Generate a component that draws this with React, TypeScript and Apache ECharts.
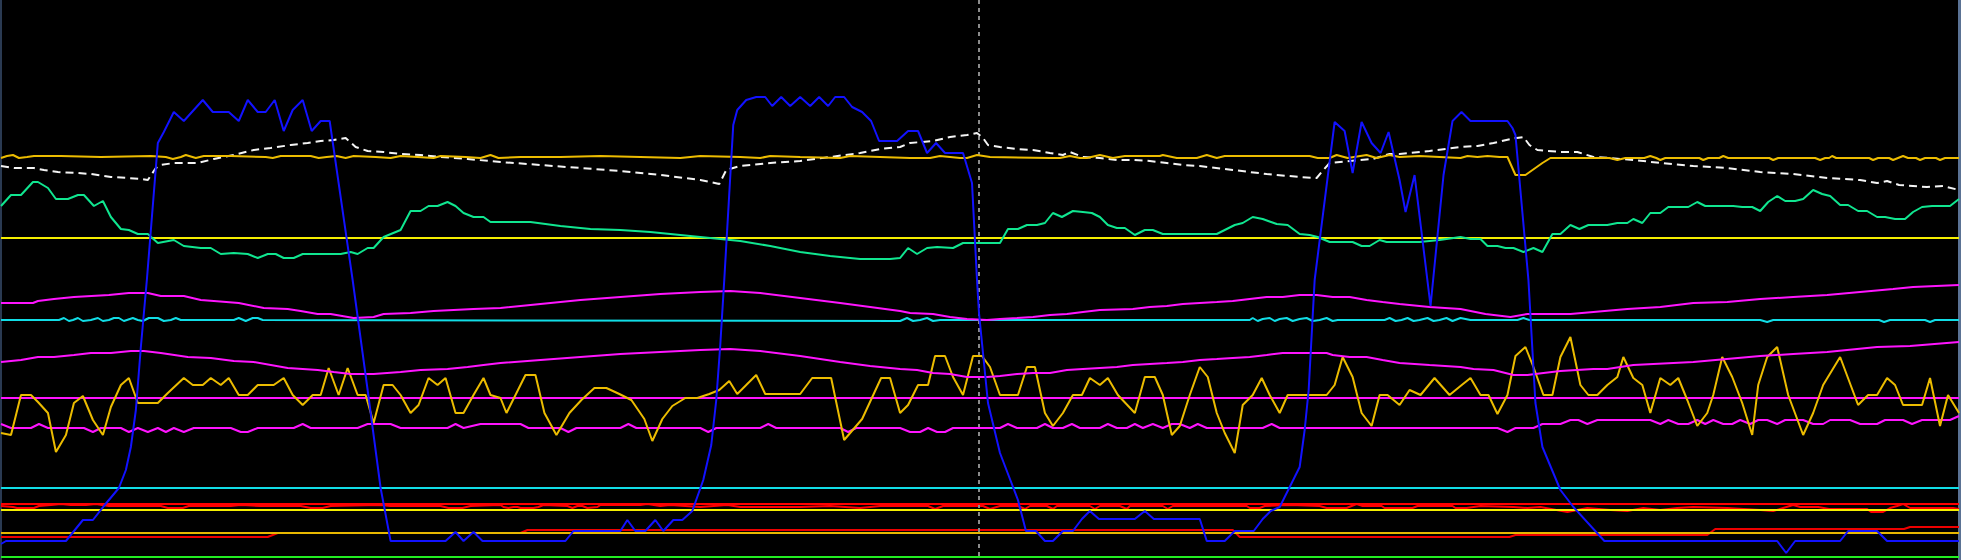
import React, { useEffect, useRef } from 'react';
import * as echarts from 'echarts';

type P = [number, number][];

// x: time position (0..1960), y: trace level (0 at top, 560 at bottom)
const blueTrace: P = [
  [0, 544], [5, 541], [65, 541], [82, 520], [92, 520], [103, 506], [118, 488], [125, 470], [130, 447], [135, 410], [140, 347], [146, 280],
  [157, 143], [163, 132], [173, 112], [183, 121], [202, 100], [212, 112], [228, 112], [238, 121], [247, 100], [257, 112], [265, 112],
  [274, 100], [283, 131], [292, 110], [302, 100], [311, 131], [320, 121], [329, 121], [352, 280], [367, 390], [380, 488], [390, 541],
  [445, 541], [455, 532], [463, 541], [473, 532], [482, 541], [565, 541], [573, 531], [620, 531], [627, 520], [635, 531], [645, 531],
  [655, 520], [663, 531], [673, 520], [682, 520], [692, 511], [703, 480], [711, 445], [716, 400], [720, 345], [724, 280], [733, 125],
  [737, 110], [746, 100], [756, 97], [765, 97], [772, 106], [781, 97], [790, 106], [800, 97], [810, 106], [819, 97], [828, 106],
  [835, 97], [844, 97], [852, 107], [862, 112], [871, 121], [879, 141], [897, 141], [908, 131], [918, 131], [927, 153], [936, 143],
  [945, 153], [963, 153], [972, 183], [977, 280], [979, 313], [988, 403], [1000, 453], [1018, 500], [1026, 531], [1036, 531],
  [1045, 541], [1053, 541], [1063, 531], [1073, 531], [1082, 519], [1090, 511], [1099, 519], [1135, 519], [1145, 511], [1154, 519],
  [1200, 519], [1207, 541], [1225, 541], [1235, 531], [1254, 531], [1263, 519], [1271, 511], [1280, 507], [1300, 467], [1305, 430],
  [1309, 390], [1315, 280], [1335, 122], [1345, 131], [1353, 173], [1362, 122], [1372, 143], [1381, 153], [1389, 132], [1400, 180],
  [1406, 212], [1415, 175], [1431, 306], [1444, 175], [1453, 121], [1462, 112], [1471, 121], [1508, 121], [1513, 128], [1516, 135],
  [1529, 280], [1536, 403], [1543, 447], [1561, 490], [1574, 507], [1605, 541], [1778, 541], [1787, 553], [1796, 541], [1841, 541],
  [1849, 531], [1878, 531], [1888, 541], [1960, 541],
];

const goldTop: P = [
  [0, 158], [6, 156], [12, 155], [18, 158], [26, 157], [33, 156], [60, 156], [100, 157], [150, 156], [165, 157], [172, 159], [180, 157],
  [185, 155], [195, 158], [203, 156], [230, 156], [265, 157], [272, 158], [280, 156], [310, 156], [318, 158], [326, 157], [336, 156],
  [345, 158], [353, 156], [375, 157], [390, 158], [400, 156], [417, 157], [433, 158], [440, 156], [465, 157], [480, 158], [490, 155],
  [498, 158], [520, 157], [560, 157], [600, 156], [640, 157], [680, 158], [700, 156], [740, 157], [760, 158], [770, 156], [800, 157],
  [840, 158], [850, 156], [880, 157], [910, 158], [930, 158], [940, 156], [960, 158], [967, 158], [977, 155], [990, 157], [1050, 158],
  [1060, 158], [1070, 156], [1080, 158], [1087, 158], [1100, 155], [1113, 158], [1125, 156], [1160, 156], [1163, 155], [1177, 158],
  [1197, 158], [1207, 155], [1217, 158], [1225, 156], [1310, 156], [1318, 158], [1330, 158], [1337, 155], [1348, 158], [1367, 155],
  [1377, 158], [1390, 155], [1400, 157], [1420, 156], [1440, 157], [1461, 158], [1468, 156], [1478, 157], [1488, 156], [1500, 157],
  [1508, 157], [1516, 175], [1526, 175], [1543, 163], [1551, 158], [1610, 158], [1618, 160], [1626, 158], [1645, 158], [1651, 156],
  [1657, 158], [1661, 160], [1666, 158], [1700, 158], [1704, 160], [1709, 158], [1720, 158], [1724, 156], [1729, 158], [1770, 158],
  [1774, 160], [1779, 158], [1816, 158], [1821, 160], [1826, 158], [1830, 158], [1833, 156], [1837, 158], [1870, 158], [1874, 160],
  [1879, 158], [1890, 158], [1894, 160], [1899, 158], [1904, 156], [1909, 158], [1917, 158], [1921, 160], [1926, 158], [1937, 158],
  [1941, 160], [1946, 158], [1960, 158],
];

const whiteDashed: P = [
  [0, 166], [13, 168], [33, 168], [43, 170], [57, 172], [77, 173], [90, 174], [110, 177], [127, 178], [140, 179], [147, 180], [155, 168],
  [160, 165], [173, 163], [197, 163], [213, 159], [233, 155], [253, 150], [270, 148], [290, 145], [307, 143], [320, 141], [333, 140],
  [345, 138], [355, 147], [367, 151], [383, 152], [400, 154], [420, 155], [440, 157], [467, 159], [500, 162], [540, 165], [580, 168],
  [620, 171], [660, 175], [700, 180], [719, 184], [726, 170], [740, 166], [770, 163], [800, 161], [830, 157], [860, 153], [880, 149],
  [900, 147], [910, 143], [933, 141], [950, 137], [967, 135], [977, 133], [983, 138], [988, 145], [1000, 147], [1017, 149], [1033, 150],
  [1050, 153], [1063, 155], [1070, 152], [1083, 157], [1100, 158], [1117, 160], [1133, 160], [1150, 161], [1167, 163], [1183, 165],
  [1200, 166], [1233, 170], [1267, 174], [1300, 177], [1317, 178], [1322, 172], [1330, 163], [1350, 161], [1373, 159], [1390, 154],
  [1400, 154], [1430, 151], [1461, 147], [1478, 146], [1494, 143], [1511, 139], [1524, 137], [1530, 145], [1538, 150], [1561, 152],
  [1578, 152], [1594, 157], [1611, 158], [1644, 161], [1661, 163], [1694, 166], [1728, 168], [1761, 172], [1794, 174], [1828, 178],
  [1861, 180], [1878, 183], [1888, 181], [1900, 185], [1928, 187], [1944, 186], [1960, 190],
];

const greenWave: P = [
  [0, 206], [10, 195], [20, 195], [32, 182], [37, 182], [47, 188], [55, 199], [67, 199], [77, 195], [83, 195], [93, 206], [102, 201],
  [110, 217], [120, 229], [128, 230], [137, 234], [147, 234], [157, 243], [173, 240], [183, 246], [200, 248], [210, 248], [220, 254],
  [233, 253], [247, 254], [257, 258], [267, 254], [275, 254], [283, 258], [293, 258], [302, 254], [340, 254], [350, 252], [357, 254],
  [367, 248], [373, 248], [383, 237], [400, 230], [410, 211], [420, 211], [428, 206], [437, 206], [447, 202], [455, 206], [463, 213],
  [473, 217], [483, 217], [490, 222], [500, 222], [530, 222], [560, 226], [590, 229], [620, 230], [650, 232], [680, 235], [710, 238],
  [740, 241], [770, 246], [800, 252], [830, 256], [860, 259], [890, 259], [900, 258], [908, 248], [917, 254], [927, 248], [937, 247],
  [953, 248], [963, 243], [1000, 243], [1008, 229], [1018, 229], [1027, 225], [1037, 225], [1045, 223], [1053, 213], [1062, 217],
  [1073, 211], [1083, 212], [1092, 213], [1100, 217], [1108, 225], [1117, 228], [1125, 228], [1135, 235], [1145, 230], [1153, 230],
  [1163, 234], [1217, 234], [1225, 230], [1235, 225], [1243, 223], [1253, 217], [1263, 219], [1277, 224], [1288, 225], [1300, 234],
  [1310, 235], [1318, 237], [1330, 242], [1353, 242], [1362, 246], [1370, 246], [1380, 240], [1387, 242], [1420, 242], [1440, 240],
  [1461, 237], [1471, 239], [1481, 239], [1488, 246], [1498, 246], [1506, 248], [1514, 248], [1524, 252], [1534, 248], [1543, 252],
  [1553, 234], [1561, 234], [1571, 225], [1580, 229], [1589, 225], [1608, 225], [1618, 223], [1628, 223], [1634, 219], [1643, 223],
  [1651, 213], [1661, 213], [1669, 207], [1689, 207], [1698, 202], [1706, 206], [1734, 206], [1743, 207], [1753, 207], [1761, 211],
  [1769, 202], [1778, 196], [1786, 201], [1796, 201], [1804, 199], [1814, 190], [1823, 194], [1831, 196], [1841, 205], [1849, 205],
  [1859, 211], [1868, 211], [1878, 217], [1886, 217], [1896, 219], [1906, 219], [1914, 212], [1923, 207], [1933, 206], [1951, 206],
  [1960, 199],
];

const magentaUpper: P = [
  [0, 303], [32, 303], [37, 301], [53, 299], [73, 297], [108, 295], [128, 293], [147, 293], [160, 296], [183, 296], [200, 300], [213, 301],
  [238, 303], [263, 308], [287, 309], [300, 311], [317, 314], [330, 314], [353, 318], [373, 317], [383, 314], [410, 313], [433, 311],
  [453, 310], [473, 309], [500, 308], [540, 304], [580, 300], [620, 297], [660, 294], [700, 292], [730, 291], [760, 293], [800, 298],
  [840, 303], [870, 307], [900, 311], [910, 313], [933, 314], [950, 317], [967, 319], [987, 320], [1000, 319], [1017, 318], [1033, 317],
  [1050, 315], [1067, 314], [1083, 312], [1100, 310], [1133, 309], [1150, 307], [1167, 306], [1183, 304], [1200, 303], [1217, 302],
  [1233, 301], [1250, 299], [1267, 297], [1283, 297], [1300, 295], [1317, 295], [1333, 297], [1350, 297], [1367, 300], [1383, 302],
  [1400, 304], [1430, 307], [1461, 309], [1486, 314], [1511, 317], [1528, 314], [1571, 314], [1594, 312], [1628, 309], [1661, 307],
  [1694, 303], [1728, 302], [1761, 299], [1794, 297], [1828, 295], [1861, 292], [1894, 289], [1914, 287], [1960, 285],
];

const cyanUpper: P = [
  [0, 320], [58, 320], [63, 318], [68, 321], [72, 320], [77, 318], [82, 321], [90, 320], [97, 318], [102, 321], [108, 320], [113, 318],
  [118, 318], [123, 321], [132, 318], [137, 320], [142, 321], [148, 318], [157, 318], [163, 321], [170, 320], [175, 318], [180, 320],
  [233, 320], [238, 318], [245, 321], [252, 318], [257, 318], [262, 320], [900, 321], [907, 318], [913, 321], [920, 320], [927, 318],
  [933, 321], [940, 320], [1250, 320], [1253, 318], [1258, 321], [1263, 319], [1270, 318], [1275, 321], [1280, 319], [1287, 318],
  [1293, 321], [1300, 319], [1307, 318], [1313, 321], [1320, 320], [1327, 318], [1333, 321], [1338, 320], [1385, 320], [1390, 318],
  [1396, 321], [1402, 320], [1408, 318], [1414, 321], [1420, 320], [1428, 318], [1434, 321], [1440, 320], [1447, 318], [1453, 321],
  [1461, 318], [1471, 320], [1518, 320], [1524, 318], [1530, 320], [1761, 320], [1768, 322], [1774, 320], [1880, 320], [1885, 322],
  [1891, 320], [1926, 320], [1931, 322], [1936, 320], [1960, 320],
];

const magentaMiddle: P = [
  [0, 362], [20, 360], [37, 357], [53, 357], [73, 355], [90, 353], [110, 353], [130, 351], [143, 351], [160, 353], [187, 357], [210, 358],
  [233, 361], [253, 362], [287, 368], [317, 370], [333, 372], [350, 374], [373, 374], [400, 372], [420, 370], [447, 369], [467, 367],
  [483, 365], [500, 363], [540, 360], [580, 357], [620, 354], [660, 352], [700, 350], [730, 349], [760, 351], [800, 356], [840, 362],
  [870, 366], [900, 369], [917, 370], [933, 373], [950, 374], [967, 377], [987, 377], [1000, 376], [1017, 374], [1033, 373], [1050, 373],
  [1067, 370], [1083, 369], [1100, 368], [1117, 367], [1133, 365], [1150, 364], [1167, 363], [1183, 362], [1200, 360], [1217, 359],
  [1233, 358], [1250, 357], [1267, 355], [1283, 353], [1327, 353], [1333, 355], [1350, 357], [1367, 357], [1383, 360], [1400, 363],
  [1430, 365], [1461, 367], [1474, 369], [1494, 370], [1514, 375], [1528, 375], [1544, 373], [1561, 371], [1594, 369], [1608, 369],
  [1634, 365], [1694, 362], [1761, 356], [1794, 354], [1828, 352], [1878, 347], [1911, 346], [1960, 342],
];

const magentaLevel = 398;

const magentaLower: P = [
  [0, 424], [10, 428], [30, 428], [38, 424], [47, 428], [83, 428], [92, 432], [100, 428], [120, 428], [128, 432], [137, 428], [147, 432],
  [157, 428], [165, 432], [173, 428], [183, 432], [193, 428], [230, 428], [240, 432], [247, 432], [257, 428], [293, 428], [302, 424],
  [310, 428], [357, 428], [367, 424], [390, 424], [400, 428], [447, 428], [455, 424], [463, 428], [480, 424], [520, 424], [528, 428],
  [560, 428], [568, 432], [576, 428], [620, 428], [628, 424], [636, 428], [700, 428], [708, 432], [716, 428], [760, 428], [768, 424],
  [776, 428], [840, 428], [848, 432], [856, 428], [900, 428], [910, 432], [920, 432], [928, 428], [937, 432], [945, 432], [953, 428],
  [1000, 428], [1008, 424], [1017, 428], [1037, 428], [1045, 424], [1053, 428], [1063, 428], [1072, 424], [1080, 428], [1100, 428],
  [1108, 424], [1117, 428], [1127, 428], [1135, 424], [1143, 428], [1153, 424], [1163, 428], [1172, 424], [1180, 424], [1190, 428],
  [1198, 424], [1207, 428], [1263, 428], [1272, 424], [1280, 428], [1498, 428], [1508, 432], [1516, 428], [1534, 428], [1543, 424],
  [1561, 424], [1571, 420], [1579, 420], [1588, 424], [1598, 420], [1651, 420], [1661, 424], [1669, 420], [1679, 424], [1689, 424],
  [1698, 420], [1706, 424], [1714, 420], [1724, 424], [1733, 424], [1741, 420], [1751, 424], [1759, 420], [1768, 420], [1778, 424],
  [1786, 420], [1804, 420], [1814, 424], [1824, 424], [1831, 420], [1851, 420], [1861, 424], [1878, 424], [1886, 420], [1904, 420],
  [1913, 424], [1923, 420], [1951, 420], [1960, 416],
];

const goldNoisy: P = [
  [0, 433], [10, 435], [20, 395], [30, 395], [37, 402], [47, 413], [55, 452], [65, 435], [73, 403], [82, 396], [92, 420], [102, 435],
  [110, 407], [120, 385], [128, 378], [137, 403], [157, 403], [167, 393], [183, 378], [192, 385], [202, 385], [210, 378], [220, 385],
  [228, 378], [238, 395], [247, 395], [257, 385], [273, 385], [283, 378], [292, 395], [302, 405], [312, 395], [320, 395], [328, 368],
  [338, 395], [347, 368], [357, 395], [365, 395], [373, 423], [383, 385], [392, 385], [400, 395], [410, 413], [418, 405], [428, 378],
  [437, 385], [445, 378], [455, 413], [463, 413], [473, 395], [483, 378], [490, 395], [500, 398], [506, 413], [525, 375], [535, 375],
  [544, 413], [556, 435], [569, 413], [581, 400], [594, 388], [606, 388], [619, 394], [631, 400], [644, 419], [652, 441], [662, 419],
  [672, 406], [685, 398], [697, 398], [709, 394], [719, 390], [729, 381], [737, 394], [746, 385], [756, 375], [765, 394], [775, 394],
  [800, 394], [812, 378], [831, 378], [844, 440], [862, 419], [881, 378], [890, 378], [900, 413], [908, 405], [918, 385], [928, 385],
  [935, 356], [945, 356], [953, 377], [963, 395], [973, 356], [982, 356], [990, 367], [1000, 395], [1018, 395], [1027, 367], [1035, 367],
  [1045, 413], [1053, 426], [1063, 413], [1073, 395], [1082, 395], [1090, 378], [1100, 385], [1108, 378], [1118, 395], [1135, 413],
  [1145, 377], [1155, 377], [1163, 395], [1172, 435], [1180, 426], [1190, 395], [1200, 367], [1208, 377], [1217, 413], [1225, 433],
  [1235, 453], [1243, 405], [1253, 395], [1262, 378], [1270, 395], [1280, 413], [1288, 395], [1327, 395], [1335, 385], [1343, 357],
  [1353, 377], [1362, 413], [1372, 426], [1380, 395], [1388, 395], [1400, 405], [1410, 390], [1421, 395], [1435, 378], [1450, 395],
  [1461, 386], [1471, 378], [1481, 395], [1489, 395], [1498, 414], [1508, 395], [1516, 356], [1526, 347], [1534, 367], [1544, 395],
  [1553, 395], [1561, 357], [1571, 337], [1581, 385], [1589, 395], [1598, 395], [1608, 385], [1618, 377], [1624, 357], [1634, 378],
  [1643, 385], [1651, 413], [1661, 378], [1671, 385], [1679, 378], [1688, 400], [1698, 426], [1708, 413], [1714, 395], [1723, 357],
  [1733, 377], [1743, 403], [1753, 435], [1759, 385], [1768, 357], [1778, 347], [1789, 395], [1804, 435], [1814, 413], [1824, 385],
  [1841, 357], [1859, 405], [1869, 395], [1878, 395], [1888, 378], [1896, 385], [1904, 405], [1923, 405], [1931, 378], [1941, 426],
  [1949, 395], [1960, 413],
];

const redNoisy: P = [
  [0, 506], [12, 507], [16, 508], [33, 508], [38, 506], [50, 505], [60, 504], [70, 505], [85, 505], [95, 504], [108, 506], [160, 506],
  [167, 508], [182, 508], [188, 506], [230, 506], [240, 505], [260, 506], [300, 506], [310, 508], [322, 508], [330, 506], [380, 505],
  [390, 506], [440, 506], [448, 508], [462, 508], [470, 506], [500, 505], [503, 507], [508, 508], [513, 507], [517, 507], [520, 508],
  [533, 508], [538, 507], [543, 505], [567, 506], [572, 508], [577, 506], [582, 506], [587, 508], [597, 507], [600, 505], [640, 505],
  [647, 504], [660, 506], [670, 505], [700, 507], [727, 505], [740, 507], [800, 507], [830, 506], [860, 508], [880, 506], [928, 506],
  [935, 509], [943, 506], [983, 506], [990, 509], [1000, 506], [1018, 506], [1025, 509], [1030, 506], [1047, 506], [1053, 509],
  [1057, 506], [1090, 506], [1095, 509], [1100, 506], [1120, 506], [1127, 509], [1130, 506], [1163, 506], [1168, 509], [1173, 506],
  [1247, 506], [1250, 508], [1260, 508], [1265, 506], [1290, 505], [1320, 506], [1327, 508], [1347, 508], [1352, 506], [1357, 504],
  [1363, 506], [1382, 506], [1385, 508], [1413, 508], [1418, 506], [1453, 506], [1456, 508], [1467, 508], [1481, 506], [1514, 507],
  [1528, 508], [1541, 507], [1557, 510], [1568, 512], [1588, 508], [1611, 510], [1628, 511], [1644, 508], [1661, 510], [1678, 508],
  [1694, 507], [1728, 508], [1761, 510], [1774, 511], [1784, 508], [1794, 505], [1801, 507], [1819, 507], [1830, 509], [1868, 509],
  [1872, 512], [1884, 512], [1891, 508], [1898, 506], [1904, 504], [1911, 508], [1954, 508], [1960, 509],
];

const redStep: P = [
  [0, 537], [267, 537], [277, 533], [520, 533], [527, 530], [1233, 530], [1240, 537], [1510, 537], [1516, 535], [1708, 535],
  [1716, 529], [1905, 529], [1911, 527], [1960, 527],
];

const yellowUpperLevel = 238;
const cyanLowerLevel = 488;
const redLevel = 504;
const yellowLowerLevel = 510;
const goldLowerLevel = 533;
const greenLowerLevel = 557;
const cursorTime = 979;
const X_MAX = 1960;

export default function App() {
  const ref = useRef<HTMLDivElement>(null);

  useEffect(() => {
    if (!ref.current) return;
    document.body.style.margin = '0';
    document.body.style.background = '#000';
    const chart = echarts.init(ref.current, null, { renderer: 'svg' });
    const flat = (v: number): P => [[0, v], [X_MAX, v]];
    const line = (name: string, data: P, color: string, z: number, width = 2, type: any = 'solid', extra: any = {}) => ({
      name,
      type: 'line',
      data,
      symbol: 'none',
      showSymbol: false,
      silent: true,
      z,
      lineStyle: { color, width, type },
      emphasis: { disabled: true },
      ...extra,
    });

    chart.setOption({
      animation: false,
      backgroundColor: '#000000',
      grid: { left: 1, right: 2, top: 0, bottom: 0, containLabel: false },
      tooltip: { show: false },
      xAxis: {
        type: 'value',
        min: 0,
        max: X_MAX,
        show: false,
      },
      yAxis: [
        {
          type: 'value',
          min: 0,
          max: 560,
          inverse: true,
          position: 'left',
          axisLine: { show: true, lineStyle: { color: '#2a3a52', width: 2 } },
          axisTick: { show: false },
          axisLabel: { show: false },
          splitLine: { show: false },
        },
        {
          type: 'value',
          min: 0,
          max: 560,
          inverse: true,
          position: 'right',
          axisLine: { show: true, lineStyle: { color: '#5a7294', width: 3 } },
          axisTick: { show: false },
          axisLabel: { show: false },
          splitLine: { show: false },
        },
      ],
      series: [
        line('green level', flat(greenLowerLevel), '#22ee22', 1),
        line('red step', redStep, '#ee0000', 2),
        line('gold level', flat(goldLowerLevel), '#e8b800', 3),
        line('red noisy', redNoisy, '#ff0000', 4),
        line('red level', flat(redLevel), '#ff0000', 5),
        line('yellow lower', flat(yellowLowerLevel), '#f4ee00', 6),
        line('cyan lower', flat(cyanLowerLevel), '#11dde6', 7),
        line('magenta lower', magentaLower, '#ff14ff', 8),
        line('magenta level', flat(magentaLevel), '#ff14ff', 9),
        line('gold noisy', goldNoisy, '#ecbc00', 10),
        line('magenta middle', magentaMiddle, '#ff14ff', 11),
        line('cyan upper', cyanUpper, '#11dde6', 12),
        line('magenta upper', magentaUpper, '#ff14ff', 13),
        line('yellow upper', flat(yellowUpperLevel), '#f4ee00', 14),
        line('green wave', greenWave, '#10e690', 15),
        line('white dashed', whiteDashed, '#f4f4f4', 16, 2, [8, 5]),
        line('gold top', goldTop, '#ecbc00', 17),
        line('blue', blueTrace, '#1212ff', 18, 2, 'solid', {
          markLine: {
            silent: true,
            symbol: ['none', 'none'],
            label: { show: false },
            lineStyle: { color: '#8c8c8c', width: 2, type: [4, 4] },
            data: [{ xAxis: cursorTime }],
          },
        }),
      ],
    });
    return () => chart.dispose();
  }, []);

  return (
    <div style={{ position: 'fixed', left: 0, top: 0, width: 1961, height: 560, background: '#000' }}>
      <div ref={ref} style={{ width: 1961, height: 560 }} />
    </div>
  );
}
